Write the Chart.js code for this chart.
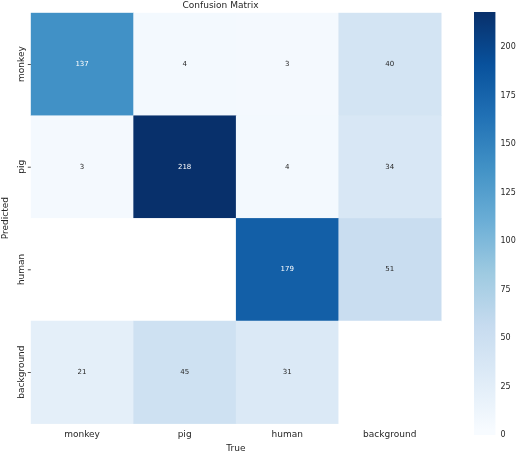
<!DOCTYPE html><html><head><script src="https://cdn.jsdelivr.net/npm/chart.js@4"></script>
<style>body{margin:0;background:#fff}#m{position:absolute;left:0;top:0}#c{position:absolute;left:455px;top:0}</style></head><body>
<canvas id="m" width="450" height="454"></canvas><canvas id="c" width="62" height="454"></canvas>
<script>
const trueLabels=["monkey","pig","human","background"];
const predLabels=["monkey","pig","human","background"];
const matrix=[[137,4,3,40],[3,218,4,34],[0,0,179,51],[21,45,31,0]];
const cbTicks=[0,25,50,75,100,125,150,175,200];
const vmax=218;
const stops=["#f7fbff","#deebf7","#c6dbef","#9ecae1","#6baed6","#4292c6","#2171b5","#08519c","#08306b"];
function hx(h){return [1,3,5].map(i=>parseInt(h.substr(i,2),16));}
function blues(t){t=Math.max(0,Math.min(1,t));const p=t*8,i=Math.min(7,Math.floor(p)),f=p-i;const a=hx(stops[i]),b=hx(stops[i+1]);return `rgb(${a.map((v,k)=>Math.round(v+(b[k]-v)*f)).join(",")})`;}
const font="DejaVu Sans";
const heat={id:'heat',beforeDatasetsDraw(ch){const x=ch.scales.x,y=ch.scales.y,c=ch.ctx;const w=x.width/4,h=y.height/4;
matrix.forEach((row,r)=>row.forEach((v,k)=>{const cx=x.getPixelForValue(k),cy=y.getPixelForValue(r);c.fillStyle=v===0?"#ffffff":blues(v/vmax);c.fillRect(cx-w/2,cy-h/2,w+0.5,h+0.5);
if(v>0){c.fillStyle=v>vmax*0.55?"#fff":"#262626";c.font="7px "+font;c.textAlign="center";c.textBaseline="middle";c.fillText(v,cx,cy);}}));
c.save();c.fillStyle="#262626";c.font="9px "+font;predLabels.forEach((l,r)=>{const cy=y.getPixelForValue(r);c.save();c.translate(x.left-9,cy);c.rotate(-Math.PI/2);c.textAlign="center";c.textBaseline="middle";c.fillText(l,0,0);c.restore();c.fillRect(x.left-3,cy,3,0.8);});c.restore();}};
new Chart(document.getElementById('m'),{type:'bar',data:{labels:trueLabels,datasets:[{data:[]}]},plugins:[heat],
options:{responsive:false,animation:false,layout:{padding:{left:0,right:9,top:0,bottom:0}},
plugins:{legend:{display:false},tooltip:{enabled:false},title:{display:true,text:"Confusion Matrix",color:"#262626",font:{family:font,size:9,weight:'normal'},padding:{top:0,bottom:2}}},
scales:{x:{type:'category',offset:true,grid:{display:false,drawTicks:true,tickLength:3,tickColor:'#333'},border:{display:false},ticks:{color:'#262626',font:{family:font,size:9},padding:3},title:{display:true,text:"True",color:'#262626',font:{family:font,size:9},padding:0}},
y:{type:'category',offset:true,labels:predLabels,grid:{display:false},border:{display:false},ticks:{display:false},title:{display:true,text:"Predicted",color:'#262626',font:{family:font,size:9},padding:{top:0,bottom:12}}}}}});
const cbc=document.getElementById('c');const g=cbc.getContext('2d').createLinearGradient(0,430,0,12);stops.forEach((s,i)=>g.addColorStop(i/8,s));
new Chart(cbc,{type:'bar',data:{labels:["c"],datasets:[{data:[[0,vmax]],backgroundColor:g,barPercentage:1,categoryPercentage:1}]},
options:{responsive:false,animation:false,layout:{padding:{left:19,top:12,bottom:19}},plugins:{legend:{display:false},tooltip:{enabled:false}},
scales:{x:{display:false},y:{position:'right',min:0,max:vmax,afterBuildTicks(s){s.ticks=cbTicks.map(v=>({value:v}));},grid:{display:false,drawOnChartArea:false,tickLength:3,tickColor:'#333'},border:{display:false},ticks:{color:'#262626',font:{family:font,size:8},padding:2}}}}});
</script></body></html>
